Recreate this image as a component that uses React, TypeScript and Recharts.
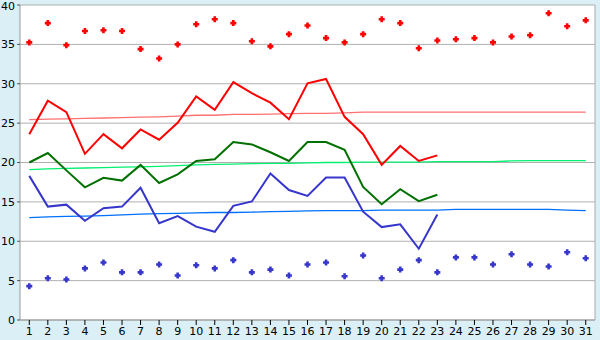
import { ComposedChart, Line, XAxis, YAxis, CartesianGrid } from "recharts";

const days = [
  "1", "2", "3", "4", "5", "6", "7", "8", "9", "10", "11", "12", "13", "14", "15", "16",
  "17", "18", "19", "20", "21", "22", "23", "24", "25", "26", "27", "28", "29", "30", "31",
];

// observed daily values (month still running, 23 days so far)
const hiObs = [23.6, 27.85, 26.4, 21.1, 23.6, 21.8, 24.2, 22.9, 25.05, 28.4, 26.7, 30.2, 28.8, 27.6, 25.5, 30.05, 30.6, 25.8, 23.6, 19.7, 22.1, 20.2, 20.9];
const meanObs = [20.0, 21.2, 19.0, 16.85, 18.05, 17.7, 19.7, 17.4, 18.5, 20.2, 20.4, 22.6, 22.3, 21.3, 20.2, 22.6, 22.6, 21.6, 16.9, 14.7, 16.6, 15.1, 15.9];
const loObs = [18.3, 14.4, 14.65, 12.6, 14.2, 14.4, 16.8, 12.3, 13.2, 11.85, 11.2, 14.5, 15.05, 18.6, 16.5, 15.75, 18.1, 18.1, 13.75, 11.8, 12.15, 9.05, 13.4];

// normals
const hiNorm = [25.45, 25.5, 25.55, 25.6, 25.65, 25.7, 25.75, 25.8, 25.9, 26.0, 26.0, 26.1, 26.1, 26.15, 26.2, 26.25, 26.25, 26.3, 26.4, 26.4, 26.4, 26.4, 26.4, 26.4, 26.4, 26.4, 26.4, 26.4, 26.4, 26.4, 26.4];
const meanNorm = [19.1, 19.2, 19.25, 19.3, 19.35, 19.4, 19.45, 19.5, 19.6, 19.7, 19.75, 19.8, 19.85, 19.9, 19.9, 19.95, 20.0, 20.0, 20.05, 20.05, 20.05, 20.05, 20.1, 20.1, 20.1, 20.1, 20.2, 20.25, 20.25, 20.25, 20.25];
const loNorm = [13.0, 13.1, 13.15, 13.2, 13.25, 13.35, 13.45, 13.5, 13.55, 13.6, 13.65, 13.65, 13.7, 13.75, 13.8, 13.85, 13.9, 13.9, 13.9, 13.95, 13.95, 13.95, 13.95, 14.05, 14.05, 14.05, 14.05, 14.05, 14.05, 13.95, 13.9];

// records
const recHi = [35.25, 37.7, 34.9, 36.7, 36.8, 36.7, 34.4, 33.2, 35.0, 37.55, 38.2, 37.7, 35.4, 34.75, 36.3, 37.4, 35.8, 35.25, 36.3, 38.2, 37.7, 34.5, 35.5, 35.65, 35.8, 35.25, 36.0, 36.15, 38.95, 37.3, 38.05];
const recLo = [4.3, 5.3, 5.15, 6.55, 7.3, 6.05, 6.05, 7.05, 5.65, 6.95, 6.55, 7.6, 6.05, 6.4, 5.65, 7.05, 7.3, 5.55, 8.2, 5.3, 6.4, 7.6, 6.05, 7.95, 7.95, 7.05, 8.35, 7.05, 6.8, 8.6, 7.85];

const yTicks = [0, 5, 10, 15, 20, 25, 30, 35, 40];

const data = days.map((d, i) => ({
  day: d,
  hiObs: hiObs[i] ?? null,
  meanObs: meanObs[i] ?? null,
  loObs: loObs[i] ?? null,
  hiNorm: hiNorm[i],
  meanNorm: meanNorm[i],
  loNorm: loNorm[i],
  recHi: recHi[i],
  recLo: recLo[i],
}));

const tickFont = { fill: "#000", fontSize: 11, fontFamily: "DejaVu Sans" };

function plusMarker(color: string) {
  return (p: any) => {
    const { cx, cy, index } = p;
    if (cx == null || cy == null) return <g key={index} />;
    const t = 1.3;
    const L = 3;
    const d = `M${cx - t},${cy - L} h${2 * t} v${L - t} h${L - t} v${2 * t} h${-(L - t)} v${L - t} h${-2 * t} v${-(L - t)} h${-(L - t)} v${-2 * t} h${L - t} z`;
    return <path key={index} d={d} fill={color} stroke="none" />;
  };
}

export default function App() {
  return (
    <div style={{ position: "absolute", left: 0, top: 0, width: 600, height: 340, background: "#daeff6" }}>
      <ComposedChart width={600} height={340} data={data} margin={{ top: 5, right: 0, left: 0, bottom: 0 }}>
        <CartesianGrid vertical={false} stroke="#b0b0b0" fill="#fff" fillOpacity={1} />
        <XAxis
          dataKey="day"
          scale="band"
          height={20}
          interval={0}
          stroke="#999"
          tick={tickFont}
          tickSize={5}
          tickMargin={2}
          tickLine={{ stroke: "#000" }}
        />
        <YAxis
          domain={[0, 40]}
          ticks={yTicks}
          width={20}
          stroke="#999"
          tick={tickFont}
          tickSize={3}
          tickMargin={2}
          tickLine={{ stroke: "#555" }}
        />
        <YAxis yAxisId="r" orientation="right" domain={[0, 40]} width={5} tick={false} tickLine={false} stroke="#aaa" />

        <Line dataKey="hiNorm" stroke="#ff7070" strokeWidth={1.3} dot={false} isAnimationActive={false} />
        <Line dataKey="meanNorm" stroke="#00f070" strokeWidth={1.3} dot={false} isAnimationActive={false} />
        <Line dataKey="loNorm" stroke="#0070ff" strokeWidth={1.3} dot={false} isAnimationActive={false} />

        <Line dataKey="hiObs" stroke="#ff0000" strokeWidth={2} dot={false} isAnimationActive={false} />
        <Line dataKey="meanObs" stroke="#007000" strokeWidth={2} dot={false} isAnimationActive={false} />
        <Line dataKey="loObs" stroke="#3636cc" strokeWidth={2} dot={false} isAnimationActive={false} />

        <Line dataKey="recHi" stroke="none" dot={plusMarker("#ff0000")} activeDot={false} isAnimationActive={false} />
        <Line dataKey="recLo" stroke="none" dot={plusMarker("#3636cc")} activeDot={false} isAnimationActive={false} />
      </ComposedChart>
    </div>
  );
}
